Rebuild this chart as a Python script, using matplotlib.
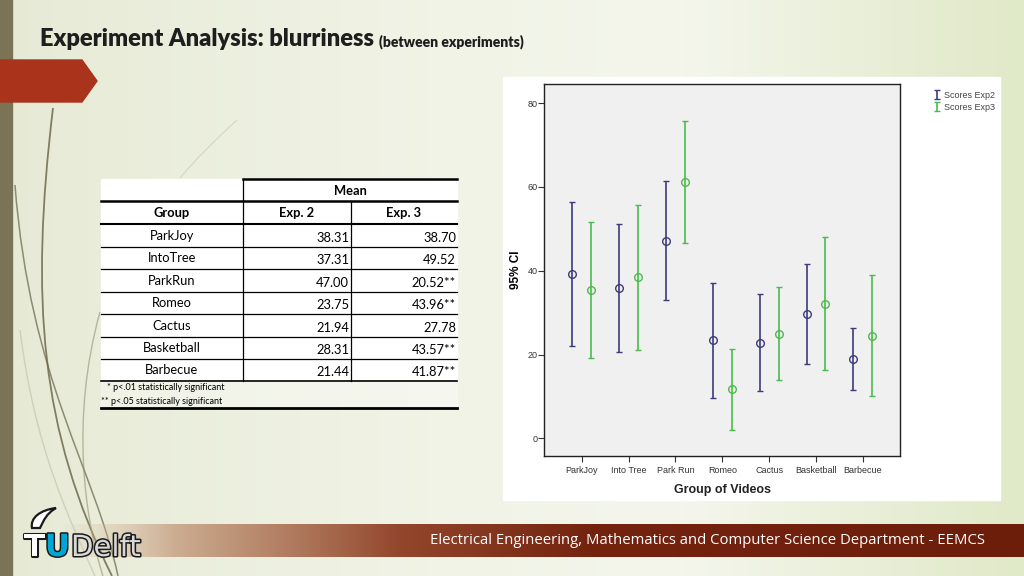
import numpy as np
import matplotlib.pyplot as plt
from matplotlib.patches import Polygon, Rectangle, PathPatch
from matplotlib.path import Path
from matplotlib.colors import LinearSegmentedColormap, to_rgb
import matplotlib.patheffects as pe

# chart data
groups = ['ParkJoy', 'Into Tree', 'Park Run', 'Romeo', 'Cactus', 'Basketball', 'Barbecue']
exp2_mean = [39.2, 35.9, 47.2, 23.4, 22.8, 29.6, 18.9]
exp2_low = [22.1, 20.6, 33.0, 9.7, 11.2, 17.8, 11.6]
exp2_high = [56.4, 51.2, 61.5, 37.1, 34.5, 41.6, 26.3]
exp3_mean = [35.4, 38.4, 61.2, 11.8, 25.0, 32.1, 24.5]
exp3_low = [19.3, 21.2, 46.7, 2.0, 13.9, 16.3, 10.0]
exp3_high = [51.7, 55.7, 75.8, 21.4, 36.1, 48.0, 39.0]
yticks = [0, 20, 40, 60, 80]

# table data
table_groups = ['ParkJoy', 'IntoTree', 'ParkRun', 'Romeo', 'Cactus', 'Basketball', 'Barbecue']
table_exp2 = ['38.31', '37.31', '47.00', '23.75', '21.94', '28.31', '21.44']
table_exp3 = ['38.70', '49.52', '20.52**', '43.96**', '27.78', '43.57**', '41.87**']
footnotes = ['* p<.01 statistically significant', '** p<.05 statistically significant']

W, H = 1024, 576
fig = plt.figure(figsize=(W / 100, H / 100), dpi=100)

# slide background, drawn in pixel coordinates
bg = fig.add_axes([0, 0, 1, 1])
bg.set_xlim(0, W)
bg.set_ylim(H, 0)
bg.axis('off')

cmap_bg = LinearSegmentedColormap.from_list('bg', ['#e6ead5', '#eff2e3', '#f4f6ec', '#e0e9c8'])
grad = np.tile(np.linspace(0, 1, 256), (2, 1))
bg.imshow(grad, cmap=cmap_bg, extent=[0, W, H, 0], aspect='auto', zorder=0)

# left bar and red arrow
bg.add_patch(Rectangle((0, 0), 12, H, color='#7a7355', zorder=2))
bg.add_patch(Polygon([(0, 60), (82, 60), (97, 81), (82, 102), (0, 102)],
                     closed=True, color='#a9331b', zorder=3))

# thin decorative curves
curves = [
    ([(53, 108), (30, 300), (40, 430), (112, 576)], '#6e6a4e', 1.3, 0.85),
    ([(15, 185), (30, 380), (95, 470), (118, 576)], '#6e6a4e', 1.1, 0.75),
    ([(100, 312), (70, 420), (85, 520), (103, 576)], '#8a8a6a', 1.0, 0.55),
    ([(20, 330), (35, 450), (70, 520), (95, 576)], '#b5b9a0', 1.0, 0.5),
    ([(237, 120), (215, 140), (195, 160), (180, 178)], '#c8ccb5', 0.8, 0.7),
]
for pts, col, lw, a in curves:
    path = Path(pts, [Path.MOVETO, Path.CURVE4, Path.CURVE4, Path.CURVE4])
    bg.add_patch(PathPatch(path, fill=False, ec=col, lw=lw, alpha=a, zorder=2))

# title (no condensed face installed, so a heavy narrow-ish face instead)
tfam = ['Lato', 'DejaVu Sans']
title = bg.text(40, 46, 'Experiment Analysis: blurriness', fontsize=17, fontweight='heavy',
                family=tfam, color='#1e1e1e', va='baseline', ha='left', zorder=5)
fig.canvas.draw()
tb = title.get_window_extent().transformed(bg.transData.inverted())
bg.text(max(tb.x0, tb.x1) + 5, 46, '(between experiments)', fontsize=10, fontweight='heavy',
        family=tfam, color='#1e1e1e', va='baseline', ha='left', zorder=5)

# footer band with gradient
band = np.zeros((2, 512, 4))
stops = [(0.0, '#d9c2a8', 0.0), (0.12, '#c9a587', 0.9), (0.35, '#93472c', 1.0),
         (0.55, '#74230f', 1.0), (1.0, '#6c1e0b', 1.0)]
xs = np.linspace(0, 1, 512)
for c in range(3):
    band[:, :, c] = np.interp(xs, [s[0] for s in stops], [to_rgb(s[1])[c] for s in stops])
band[:, :, 3] = np.interp(xs, [s[0] for s in stops], [s[2] for s in stops])
bg.imshow(band, extent=[60, W, 557, 524], aspect='auto', zorder=3)
bg.text(985, 541, 'Electrical Engineering, Mathematics and Computer Science Department - EEMCS',
        color='white', fontsize=10.7, family='Open Sans', ha='right', va='center', zorder=5)

# TU Delft logo
stroke = [pe.withStroke(linewidth=2.2, foreground='#1a1a1a')]
bg.text(24, 556, 'T', fontsize=22, fontweight='bold', color='white', va='baseline',
        path_effects=stroke, zorder=6)
bg.text(45, 556, 'U', fontsize=22, fontweight='bold', color='#00a6d6', va='baseline',
        path_effects=stroke, zorder=6)
bg.text(71, 556, 'Delft', fontsize=21, color='#d8d8d8', va='baseline',
        path_effects=stroke, zorder=6)
flame = Path([(32, 528), (30, 518), (40, 510), (56, 508), (46, 514), (44, 520), (40, 528),
              (32, 528)],
             [Path.MOVETO, Path.CURVE4, Path.CURVE4, Path.CURVE4, Path.CURVE4, Path.CURVE4,
              Path.CURVE4, Path.CLOSEPOLY])
bg.add_patch(PathPatch(flame, fc='white', ec='#1a1a1a', lw=1.6, zorder=6))

# table
tfont = ['Lato', 'DejaVu Sans']
bg.add_patch(Rectangle((101, 179), 356, 202, color='white', zorder=3))
bg.add_patch(Rectangle((101, 381), 356, 27, color='white', alpha=0.35, zorder=3))
bg.plot([243, 457], [179, 179], color='black', lw=1.8, zorder=4)
bg.plot([101, 457], [201, 201], color='black', lw=1.8, zorder=4)
bg.plot([101, 457], [224, 224], color='black', lw=1.5, zorder=4)
row_lines = [247, 269, 292, 314, 337, 359]
for yl in row_lines:
    bg.plot([101, 457], [yl, yl], color='black', lw=0.9, zorder=4)
bg.plot([101, 457], [381, 381], color='black', lw=1.2, zorder=4)
bg.plot([101, 457], [407.5, 407.5], color='black', lw=2.0, zorder=4)
bg.plot([243, 243], [179, 381], color='black', lw=0.9, zorder=4)
bg.plot([350.5, 350.5], [201, 381], color='black', lw=0.9, zorder=4)

bg.text(350, 191, 'Mean', fontsize=9.3, fontweight='bold', family=tfont, ha='center', va='center', zorder=5)
bg.text(172, 213, 'Group', fontsize=9.3, fontweight='bold', family=tfont, ha='center', va='center', zorder=5)
bg.text(297, 213, 'Exp. 2', fontsize=9.3, fontweight='bold', family=tfont, ha='center', va='center', zorder=5)
bg.text(404, 213, 'Exp. 3', fontsize=9.3, fontweight='bold', family=tfont, ha='center', va='center', zorder=5)
row_y = [236, 258.5, 281, 303, 325.5, 348, 370.5]
for i, yy in enumerate(row_y):
    bg.text(172, yy, table_groups[i], fontsize=9.3, family=tfont, ha='center', va='center', zorder=5)
    bg.text(349, yy + 2, table_exp2[i], fontsize=9.3, family=tfont, ha='right', va='center', zorder=5)
    bg.text(456, yy + 2, table_exp3[i], fontsize=9.3, family=tfont, ha='right', va='center', zorder=5)
bg.text(107, 388, footnotes[0], fontsize=6.5, family=tfont, ha='left', va='center', zorder=5)
bg.text(101, 401, footnotes[1], fontsize=6.5, family=tfont, ha='left', va='center', zorder=5)

# white panel behind the chart
bg.add_patch(Rectangle((503, 77), 497, 423, color='white', zorder=3))

# error bar chart
cfont = ['Liberation Sans', 'DejaVu Sans']
ax = fig.add_axes([544.3 / W, 1 - 456 / H, 356 / W, 371.7 / H])
ax.set_facecolor('#f0f0f0')
x = np.arange(len(groups))
c2, c3 = '#3e3a7c', '#4cbb4c'
for off, mean, low, high, col, lab in [(-0.2, exp2_mean, exp2_low, exp2_high, c2, 'Scores Exp2'),
                                       (0.2, exp3_mean, exp3_low, exp3_high, c3, 'Scores Exp3')]:
    mean = np.array(mean)
    yerr = [mean - np.array(low), np.array(high) - mean]
    ax.errorbar(x + off, mean, yerr=yerr, fmt='none', ecolor=col, elinewidth=1.2,
                capsize=2.2, capthick=1.0, label=lab)
    ax.plot(x + off, mean, 'o', mfc='none', mec=col, ms=5.5, mew=1.0)

ax.set_xlim(-0.8, 6.8)
ax.set_ylim(-4.2, 84.5)
ax.set_yticks(yticks)
ax.set_xticks(x)
ax.set_xticklabels(groups, family=cfont)
ax.set_yticklabels([str(v) for v in yticks], family=cfont)
ax.tick_params(axis='both', labelsize=6.5, colors='#333333', length=4, width=0.8)
ax.tick_params(axis='y', pad=1)
for s in ax.spines.values():
    s.set_color('#222222')
    s.set_linewidth(1.0)
ax.set_ylabel('95% CI', fontsize=8.5, fontweight='bold', labelpad=4, family=cfont)
ax.set_xlabel('Group of Videos', fontsize=9, fontweight='bold', labelpad=6,
              color='#222222', family=cfont)

fig.legend(loc='upper left', bbox_to_anchor=(926 / W, 1 - 83 / H), frameon=False,
           prop={'family': cfont, 'size': 6.5}, handlelength=0.6, handletextpad=0.5,
           labelspacing=0.3, labelcolor='#444444')

fig.savefig('out.png', dpi=100)
